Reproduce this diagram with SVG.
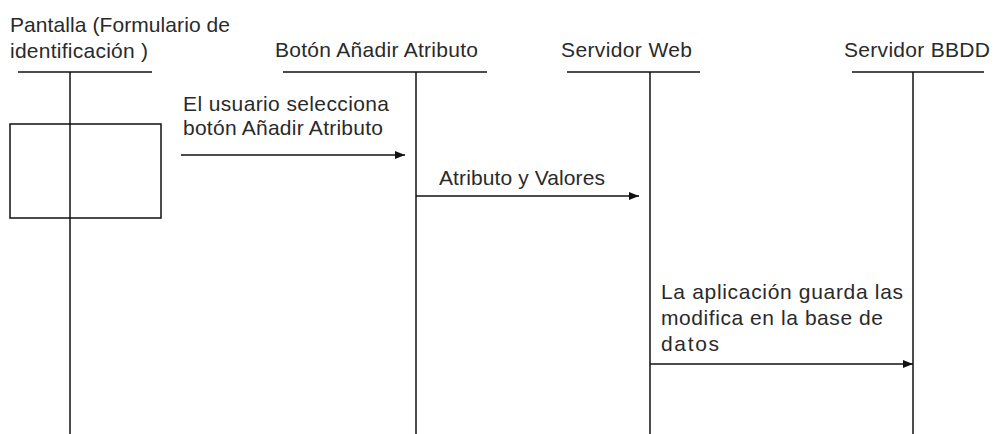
<svg xmlns="http://www.w3.org/2000/svg" width="995" height="434" viewBox="0 0 995 434">
<defs>
<style>
.t{font-family:"Liberation Sans",Arial,sans-serif;font-size:21px;fill:#2a2a2a}
.ln{stroke:#111;stroke-width:1.5;fill:none}
.msg{stroke:#111;stroke-width:1.5;fill:none;marker-end:url(#ah)}
</style>
<marker id="ah" viewBox="0 0 10 8" refX="10" refY="4" markerWidth="10" markerHeight="8" markerUnits="userSpaceOnUse" orient="auto">
<path d="M0,0 L10,4 L0,8 Z" fill="#111"/>
</marker>
</defs>
<rect width="995" height="434" fill="#fff"/>
<g id="pantalla">
<text class="t" x="10" y="32" textLength="220">Pantalla (Formulario de</text>
<text class="t" x="10" y="58" textLength="138">identificación )</text>
<line class="ln" x1="18" y1="72" x2="152" y2="72"/>
<line class="ln" x1="70" y1="72" x2="70" y2="434"/>
<rect class="ln" x="10" y="124" width="151" height="94"/>
</g>
<g id="boton">
<text class="t" x="275" y="57" textLength="203">Botón Añadir Atributo</text>
<line class="ln" x1="283" y1="72" x2="487" y2="72"/>
<line class="ln" x1="416" y1="72" x2="416" y2="434"/>
</g>
<g id="servidorweb">
<text class="t" x="561" y="57" textLength="131">Servidor Web</text>
<line class="ln" x1="567" y1="72" x2="700" y2="72"/>
<line class="ln" x1="650" y1="72" x2="650" y2="434"/>
</g>
<g id="servidorbbdd">
<text class="t" x="844" y="57" textLength="146">Servidor BBDD</text>
<line class="ln" x1="852" y1="72" x2="984" y2="72"/>
<line class="ln" x1="913" y1="72" x2="913" y2="434"/>
</g>
<g id="connectors">
<line class="msg" x1="181" y1="155" x2="405" y2="155"/>
<text class="t" x="183" y="111" textLength="206">El usuario selecciona</text>
<text class="t" x="183" y="135" textLength="200">botón Añadir Atributo</text>
<line class="msg" x1="416" y1="196" x2="639" y2="196"/>
<text class="t" x="439" y="185" textLength="166">Atributo y Valores</text>
<line class="msg" x1="650" y1="364" x2="913" y2="364"/>
<text class="t" x="661" y="299" textLength="242">La aplicación guarda las</text>
<text class="t" x="661" y="325" textLength="222">modifica en la base de</text>
<text class="t" x="661" y="351" textLength="58">datos</text>
</g>
</svg>
